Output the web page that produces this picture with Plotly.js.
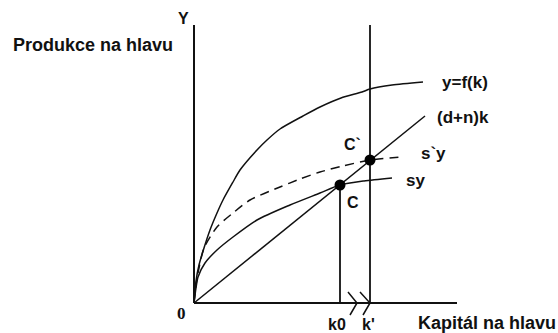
<!DOCTYPE html>
<html>
<head>
<meta charset="utf-8">
<script src="https://cdn.plot.ly/plotly-3.0.1.min.js"></script>
<style>
  html, body { margin: 0; padding: 0; background: #fff; }
  #chart { width: 558px; height: 333px; }
</style>
</head>
<body>
<div id="chart"></div>
<script>
// Solow model diagram: production, savings before/after, break-even line.
// Units are arbitrary (origin at 0,0).

const prodK = [0, 2, 5, 10, 16, 23, 29, 39, 46, 63, 73, 86, 109, 126, 147, 168, 176, 198, 229];
const prodY = [0, 22, 38, 55, 73, 90, 103, 121, 133, 153, 163, 174, 187, 196, 205, 211, 214, 218, 221];

const saveNewK = [0, 2, 5, 10, 23, 39, 56, 86, 106, 126, 149, 176, 206];
const saveNewY = [0, 18, 35, 55, 76, 90, 103, 116, 124, 131, 137, 143, 146];

const saveK = [0, 2, 4, 11, 23, 39, 63, 96, 126, 146, 170, 198];
const saveY = [0, 15, 26, 40, 53, 66, 83, 98, 110, 118, 122, 125];

const breakEvenK = [0, 231];
const breakEvenY = [0, 187];

const steadyK = [146, 176];
const steadyY = [118, 143];
const steadyNames = ['C', 'C`'];

const kMax = 263;
const yMax = 278;

const W = 558, H = 333;
const M = {l: 191, r: 101, t: 25, b: 15};

/**
 * Converts a pixel position of the page into paper coordinates.
 * @param {number} px
 * @param {number} py
 * @return {{x: number, y: number}}
 */
function at(px, py) {
  const pw = W - M.l - M.r;
  const ph = H - M.t - M.b;
  return {x: (px - M.l) / pw, y: (H - M.b - py) / ph};
}

const ink = '#111';
const lineStyle = {color: ink, width: 1.5, shape: 'spline', smoothing: 0.7};

const traces = [
  {x: prodK, y: prodY, mode: 'lines', line: lineStyle, hoverinfo: 'skip'},
  {x: saveNewK, y: saveNewY, mode: 'lines',
    line: Object.assign({}, lineStyle, {dash: '9px,6px'}), hoverinfo: 'skip'},
  {x: saveK, y: saveY, mode: 'lines', line: lineStyle, hoverinfo: 'skip'},
  {x: breakEvenK, y: breakEvenY, mode: 'lines',
    line: {color: ink, width: 1.5}, hoverinfo: 'skip'},
  {x: [steadyK[0], steadyK[0]], y: [0, steadyY[0]], mode: 'lines',
    line: {color: ink, width: 1.8}, hoverinfo: 'skip'},
  {x: [steadyK[1], steadyK[1]], y: [0, yMax], mode: 'lines',
    line: {color: ink, width: 1.8}, hoverinfo: 'skip'},
  {x: steadyK, y: steadyY, text: steadyNames, mode: 'markers',
    marker: {color: '#000', size: 11}, hoverinfo: 'text'},
];

const labelFont = {family: 'Liberation Sans, Arial, sans-serif', size: 17, color: '#111', weight: 'bold'};

const labels = [
  ['Y', 183, 19, 16],
  ['Produkce na hlavu', 93, 45, 18],
  ['y=f(k)', 465, 83, 17],
  ['(d+n)k', 463, 117, 17],
  ['s`y', 433, 153, 17],
  ['sy', 415, 181, 17],
  ['C`', 352, 144, 16],
  ['C', 353, 202, 16],
  ['k0', 337, 324, 16],
  ['k\'', 368, 324, 16],
  ['Kapitál na hlavu', 487, 323, 18],
];

const annotations = labels.map(([text, px, py, size]) => {
  const p = at(px, py);
  return {
    xref: 'paper', yref: 'paper', x: p.x, y: p.y,
    xanchor: 'center', yanchor: 'middle', showarrow: false,
    text, font: Object.assign({}, labelFont, {size}),
  };
});
const o = at(181, 313);
annotations.push({
  xref: 'paper', yref: 'paper', x: o.x, y: o.y,
  xanchor: 'center', yanchor: 'middle', showarrow: false, text: '0',
  font: {family: 'Liberation Serif, serif', size: 17, color: '#111', weight: 'bold'},
});

const axisLine = {type: 'line', xref: 'x', yref: 'y', line: {color: ink, width: 2}};
const shapes = [
  Object.assign({x0: 0, y0: 0, x1: kMax, y1: 0}, axisLine),
  Object.assign({x0: 0, y0: 0, x1: 0, y1: yMax}, axisLine),
  {type: 'path', xref: 'x', yref: 'y', path: 'M154,11 L163,0 L156,-12',
    line: {color: ink, width: 1.5}},
  {type: 'path', xref: 'x', yref: 'y', path: 'M166,11 L176,0 L169,-12',
    line: {color: ink, width: 1.5}},
];

const hidden = {visible: false, fixedrange: true};

Plotly.newPlot('chart', traces, {
  width: W,
  height: H,
  margin: M,
  paper_bgcolor: '#fff',
  plot_bgcolor: '#fff',
  showlegend: false,
  xaxis: Object.assign({range: [-3, kMax]}, hidden),
  yaxis: Object.assign({range: [-15, yMax]}, hidden),
  shapes,
  annotations,
}, {displayModeBar: false, staticPlot: true});
</script>
</body>
</html>
